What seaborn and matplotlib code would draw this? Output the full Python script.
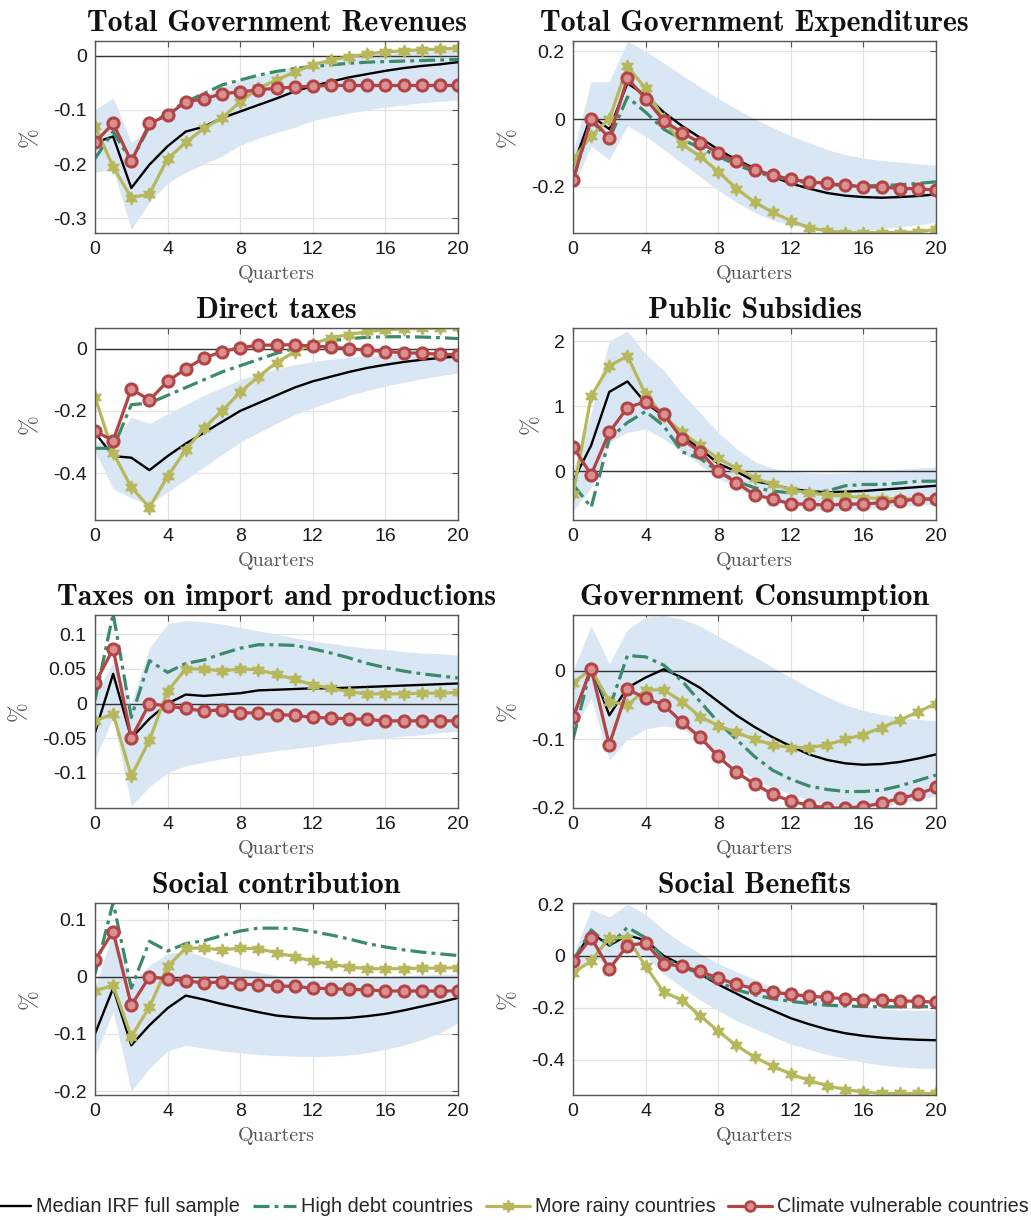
import numpy as np
import pandas as pd
import matplotlib
matplotlib.use("Agg")
import matplotlib.pyplot as plt
from matplotlib.lines import Line2D
from matplotlib.ticker import FuncFormatter, FixedLocator
import seaborn as sns

quarters = np.arange(21)

# ---- Total Government Revenues ----
rev_median = [-0.160, -0.149, -0.244, -0.201, -0.167, -0.140, -0.131, -0.115, -0.103, -0.091, -0.079,
              -0.066, -0.056, -0.048, -0.040, -0.034, -0.028, -0.023, -0.019, -0.016, -0.012]
rev_lo = [-0.215, -0.210, -0.320, -0.270, -0.235, -0.215, -0.200, -0.185, -0.165, -0.152, -0.142,
          -0.132, -0.120, -0.112, -0.106, -0.100, -0.095, -0.091, -0.087, -0.084, -0.082]
rev_hi = [-0.100, -0.078, -0.160, -0.135, -0.108, -0.088, -0.072, -0.058, -0.047, -0.037, -0.028,
          -0.020, -0.013, -0.007, -0.002, 0.002, 0.006, 0.009, 0.012, 0.014, 0.016]
rev_debt = [-0.190, -0.140, -0.195, -0.130, -0.105, -0.085, -0.070, -0.054, -0.045, -0.036, -0.029,
            -0.024, -0.020, -0.017, -0.014, -0.012, -0.011, -0.010, -0.009, -0.008, -0.007]
rev_rainy = [-0.130, -0.205, -0.262, -0.255, -0.190, -0.160, -0.134, -0.115, -0.085, -0.060, -0.045,
             -0.030, -0.017, -0.008, -0.002, 0.003, 0.007, 0.009, 0.011, 0.012, 0.014]
rev_climate = [-0.160, -0.125, -0.195, -0.125, -0.110, -0.085, -0.080, -0.070, -0.067, -0.063, -0.060,
               -0.058, -0.056, -0.055, -0.055, -0.055, -0.055, -0.055, -0.055, -0.055, -0.055]

# ---- Total Government Expenditures ----
exp_median = [-0.140, 0.010, -0.030, 0.105, 0.070, 0.020, -0.020, -0.055, -0.090, -0.120, -0.145,
              -0.170, -0.190, -0.205, -0.218, -0.226, -0.230, -0.232, -0.230, -0.227, -0.222]
exp_lo = [-0.200, -0.080, -0.120, -0.020, -0.050, -0.090, -0.130, -0.170, -0.210, -0.245, -0.275,
          -0.298, -0.313, -0.323, -0.328, -0.330, -0.328, -0.323, -0.318, -0.312, -0.305]
exp_hi = [-0.100, 0.110, 0.110, 0.230, 0.200, 0.165, 0.130, 0.095, 0.060, 0.030, 0.000,
          -0.025, -0.050, -0.070, -0.090, -0.105, -0.115, -0.122, -0.127, -0.132, -0.136]
exp_debt = [-0.180, -0.005, -0.060, 0.065, 0.020, -0.030, -0.060, -0.085, -0.110, -0.135, -0.155,
            -0.170, -0.180, -0.188, -0.193, -0.196, -0.197, -0.196, -0.194, -0.190, -0.185]
exp_rainy = [-0.120, -0.050, 0.000, 0.155, 0.090, 0.000, -0.075, -0.110, -0.155, -0.205, -0.245,
             -0.275, -0.300, -0.320, -0.330, -0.335, -0.335, -0.335, -0.335, -0.333, -0.325]
exp_climate = [-0.180, 0.000, -0.055, 0.120, 0.060, -0.005, -0.040, -0.070, -0.100, -0.125, -0.150,
               -0.165, -0.178, -0.185, -0.190, -0.195, -0.200, -0.200, -0.205, -0.205, -0.210]

# ---- Direct taxes ----
dir_median = [-0.270, -0.345, -0.350, -0.390, -0.345, -0.305, -0.270, -0.235, -0.200, -0.175, -0.150,
              -0.125, -0.105, -0.090, -0.075, -0.062, -0.052, -0.043, -0.036, -0.030, -0.025]
dir_lo = [-0.330, -0.450, -0.480, -0.500, -0.460, -0.420, -0.380, -0.340, -0.300, -0.270, -0.240,
          -0.212, -0.190, -0.170, -0.150, -0.135, -0.120, -0.108, -0.097, -0.087, -0.078]
dir_hi = [-0.300, -0.300, -0.220, -0.240, -0.210, -0.180, -0.150, -0.125, -0.100, -0.080, -0.065,
          -0.052, -0.042, -0.034, -0.028, -0.023, -0.020, -0.018, -0.016, -0.015, -0.014]
dir_debt = [-0.320, -0.320, -0.180, -0.175, -0.150, -0.125, -0.100, -0.075, -0.055, -0.035, -0.015,
            0.000, 0.015, 0.025, 0.032, 0.036, 0.038, 0.038, 0.037, 0.035, 0.032]
dir_rainy = [-0.155, -0.335, -0.445, -0.510, -0.410, -0.325, -0.255, -0.200, -0.140, -0.090, -0.045,
             -0.010, 0.015, 0.035, 0.045, 0.055, 0.060, 0.063, 0.065, 0.066, 0.068]
dir_climate = [-0.265, -0.295, -0.130, -0.165, -0.105, -0.065, -0.030, -0.010, 0.003, 0.010, 0.012,
               0.012, 0.008, 0.005, 0.000, -0.005, -0.010, -0.013, -0.015, -0.018, -0.020]

# ---- Public Subsidies ----
sub_median = [-0.150, 0.400, 1.220, 1.380, 1.050, 0.850, 0.550, 0.350, 0.120, 0.000, -0.150,
              -0.200, -0.270, -0.300, -0.320, -0.310, -0.300, -0.280, -0.260, -0.240, -0.220]
sub_lo = [-0.600, -0.250, 0.450, 0.600, 0.650, 0.500, 0.300, 0.100, -0.100, -0.250, -0.380,
          -0.450, -0.520, -0.570, -0.600, -0.600, -0.580, -0.550, -0.530, -0.520, -0.500]
sub_hi = [0.000, 0.900, 2.000, 2.150, 1.800, 1.550, 1.200, 0.900, 0.600, 0.350, 0.150,
          0.050, 0.000, -0.020, -0.030, -0.020, 0.000, 0.020, 0.030, 0.050, 0.070]
sub_debt = [-0.200, -0.550, 0.500, 0.750, 0.920, 0.700, 0.300, 0.200, 0.000, -0.150, -0.250,
            -0.300, -0.330, -0.320, -0.300, -0.220, -0.200, -0.200, -0.180, -0.150, -0.150]
sub_rainy = [-0.350, 1.150, 1.620, 1.770, 1.180, 0.850, 0.600, 0.400, 0.200, 0.050, -0.100,
             -0.200, -0.280, -0.330, -0.360, -0.380, -0.400, -0.420, -0.420, -0.420, -0.420]
sub_climate = [0.380, -0.050, 0.600, 0.980, 1.070, 0.880, 0.500, 0.300, 0.000, -0.170, -0.360,
               -0.420, -0.500, -0.500, -0.520, -0.500, -0.500, -0.480, -0.450, -0.430, -0.420]

# ---- Taxes on import and productions ----
imp_median = [-0.042, 0.043, -0.050, -0.022, 0.000, 0.013, 0.011, 0.013, 0.015, 0.019, 0.020,
              0.021, 0.022, 0.022, 0.023, 0.024, 0.025, 0.026, 0.027, 0.028, 0.029]
imp_lo = [-0.080, -0.020, -0.148, -0.120, -0.100, -0.090, -0.085, -0.080, -0.076, -0.072, -0.068,
          -0.065, -0.062, -0.058, -0.055, -0.052, -0.050, -0.047, -0.045, -0.042, -0.040]
imp_hi = [0.010, 0.060, 0.000, 0.080, 0.115, 0.120, 0.118, 0.115, 0.110, 0.105, 0.100,
          0.095, 0.090, 0.087, 0.083, 0.080, 0.078, 0.075, 0.073, 0.072, 0.070]
imp_debt = [0.005, 0.130, -0.020, 0.062, 0.045, 0.058, 0.063, 0.072, 0.080, 0.085, 0.085,
            0.084, 0.079, 0.073, 0.066, 0.058, 0.052, 0.047, 0.043, 0.040, 0.037]
imp_rainy = [-0.025, -0.015, -0.105, -0.053, 0.018, 0.050, 0.050, 0.047, 0.050, 0.049, 0.042,
             0.035, 0.027, 0.022, 0.017, 0.014, 0.014, 0.014, 0.015, 0.015, 0.016]
imp_climate = [0.029, 0.079, -0.050, 0.000, -0.004, -0.007, -0.011, -0.009, -0.013, -0.014, -0.016,
               -0.017, -0.020, -0.021, -0.022, -0.023, -0.025, -0.025, -0.025, -0.025, -0.025]

# ---- Government Consumption ----
con_median = [-0.070, 0.005, -0.065, -0.025, -0.010, 0.002, -0.010, -0.025, -0.045, -0.065, -0.082,
              -0.097, -0.110, -0.122, -0.130, -0.135, -0.137, -0.136, -0.133, -0.128, -0.122]
con_lo = [-0.090, -0.040, -0.130, -0.100, -0.085, -0.080, -0.085, -0.100, -0.120, -0.140, -0.158,
          -0.170, -0.180, -0.188, -0.194, -0.197, -0.198, -0.197, -0.193, -0.188, -0.182]
con_hi = [0.000, 0.065, 0.010, 0.060, 0.078, 0.080, 0.075, 0.065, 0.050, 0.035, 0.020,
          0.005, -0.010, -0.025, -0.038, -0.050, -0.058, -0.064, -0.068, -0.071, -0.073]
con_debt = [-0.100, 0.005, -0.055, 0.022, 0.020, 0.008, -0.015, -0.045, -0.075, -0.100, -0.125,
            -0.145, -0.158, -0.168, -0.173, -0.176, -0.176, -0.174, -0.168, -0.160, -0.152]
con_rainy = [-0.018, 0.002, -0.045, -0.050, -0.028, -0.028, -0.045, -0.067, -0.080, -0.090, -0.100,
             -0.108, -0.112, -0.112, -0.108, -0.100, -0.093, -0.083, -0.072, -0.060, -0.048]
con_climate = [-0.068, 0.003, -0.108, -0.027, -0.040, -0.050, -0.075, -0.097, -0.125, -0.148, -0.165,
               -0.180, -0.190, -0.196, -0.200, -0.200, -0.198, -0.193, -0.186, -0.180, -0.170]

# ---- Social contribution ----
soc_median = [-0.100, -0.020, -0.120, -0.085, -0.055, -0.033, -0.040, -0.048, -0.055, -0.062, -0.068,
              -0.071, -0.073, -0.073, -0.072, -0.069, -0.065, -0.059, -0.052, -0.045, -0.037]
soc_lo = [-0.140, -0.060, -0.200, -0.160, -0.130, -0.120, -0.125, -0.130, -0.133, -0.136, -0.138,
          -0.139, -0.140, -0.139, -0.137, -0.133, -0.127, -0.120, -0.110, -0.098, -0.081]
soc_hi = [-0.020, 0.080, -0.010, 0.020, 0.040, 0.045, 0.035, 0.025, 0.015, 0.008, 0.002,
          -0.002, -0.005, -0.005, -0.004, -0.002, 0.000, 0.002, 0.003, 0.004, 0.005]
soc_debt = [0.005, 0.130, -0.020, 0.062, 0.045, 0.058, 0.063, 0.072, 0.080, 0.085, 0.085,
            0.084, 0.079, 0.073, 0.066, 0.058, 0.052, 0.047, 0.043, 0.040, 0.037]
soc_rainy = [-0.025, -0.015, -0.105, -0.053, 0.018, 0.050, 0.050, 0.047, 0.050, 0.049, 0.042,
             0.035, 0.027, 0.022, 0.017, 0.014, 0.014, 0.014, 0.015, 0.015, 0.016]
soc_climate = [0.029, 0.079, -0.050, 0.000, -0.004, -0.007, -0.011, -0.009, -0.013, -0.014, -0.016,
               -0.017, -0.020, -0.021, -0.022, -0.023, -0.025, -0.025, -0.025, -0.025, -0.025]

# ---- Social Benefits ----
ben_median = [-0.020, 0.090, 0.040, 0.080, 0.060, 0.000, -0.035, -0.070, -0.110, -0.145, -0.180,
              -0.210, -0.240, -0.263, -0.283, -0.298, -0.308, -0.315, -0.320, -0.323, -0.325]
ben_lo = [-0.070, 0.000, -0.040, 0.030, 0.000, -0.070, -0.120, -0.170, -0.210, -0.250, -0.280,
          -0.310, -0.340, -0.360, -0.380, -0.395, -0.410, -0.420, -0.428, -0.432, -0.435]
ben_hi = [0.000, 0.180, 0.150, 0.200, 0.160, 0.100, 0.050, 0.010, -0.030, -0.060, -0.090,
          -0.120, -0.140, -0.160, -0.175, -0.190, -0.200, -0.205, -0.208, -0.209, -0.209]
ben_debt = [-0.020, 0.100, 0.040, 0.110, 0.070, -0.010, -0.040, -0.070, -0.100, -0.130, -0.150,
            -0.165, -0.175, -0.183, -0.190, -0.193, -0.195, -0.196, -0.196, -0.196, -0.195]
ben_rainy = [-0.065, -0.020, 0.070, 0.070, -0.040, -0.140, -0.170, -0.230, -0.290, -0.345, -0.390,
             -0.425, -0.455, -0.480, -0.500, -0.515, -0.525, -0.530, -0.530, -0.530, -0.530]
ben_climate = [-0.020, 0.070, -0.050, 0.040, 0.050, -0.030, -0.040, -0.060, -0.085, -0.110, -0.125,
               -0.140, -0.148, -0.155, -0.160, -0.165, -0.170, -0.170, -0.173, -0.175, -0.178]

titles = ["Total Government Revenues", "Total Government Expenditures",
          "Direct taxes", "Public Subsidies",
          "Taxes on import and productions", "Government Consumption",
          "Social contribution", "Social Benefits"]
series_names = ["Median IRF full sample", "High debt countries",
                "More rainy countries", "Climate vulnerable countries"]
yticks = [[-0.3, -0.2, -0.1, 0], [-0.2, 0, 0.2],
          [-0.4, -0.2, 0], [0, 1, 2],
          [-0.1, -0.05, 0, 0.05, 0.1], [-0.2, -0.1, 0],
          [-0.2, -0.1, 0, 0.1], [-0.4, -0.2, 0, 0.2]]
ylims = [(-0.327, 0.027), (-0.336, 0.230),
         (-0.550, 0.066), (-0.745, 2.200),
         (-0.151, 0.128), (-0.200, 0.081),
         (-0.207, 0.129), (-0.536, 0.204)]

panels = [
    (rev_median, rev_lo, rev_hi, rev_debt, rev_rainy, rev_climate),
    (exp_median, exp_lo, exp_hi, exp_debt, exp_rainy, exp_climate),
    (dir_median, dir_lo, dir_hi, dir_debt, dir_rainy, dir_climate),
    (sub_median, sub_lo, sub_hi, sub_debt, sub_rainy, sub_climate),
    (imp_median, imp_lo, imp_hi, imp_debt, imp_rainy, imp_climate),
    (con_median, con_lo, con_hi, con_debt, con_rainy, con_climate),
    (soc_median, soc_lo, soc_hi, soc_debt, soc_rainy, soc_climate),
    (ben_median, ben_lo, ben_hi, ben_debt, ben_rainy, ben_climate),
]

sns.set_theme(style="white")
plt.rcParams["font.family"] = ["Liberation Sans", "DejaVu Sans"]
plt.rcParams["axes.unicode_minus"] = False

BAND = "#d9e6f4"
GREEN = "#3b8a6c"
YELLOW = "#b7b75c"
RED = "#b24446"
RED_FACE = "#d99090"
STAR = (6, 1, 0)
DASHDOT = (0, (5.0, 1.6, 1.2, 1.6))

W, H = 1031, 1220
fig = plt.figure(figsize=(W / 100, H / 100), dpi=100)

cols = [(95, 458), (573, 936)]
rows = [(41, 233), (328, 520), (615, 808), (903, 1095)]

fmt = FuncFormatter(lambda v, _: f"{v:g}")

for i, (title, data) in enumerate(zip(titles, panels)):
    r, c = divmod(i, 2)
    x0, x1 = cols[c]
    y0, y1 = rows[r]
    ax = fig.add_axes([x0 / W, 1 - y1 / H, (x1 - x0) / W, (y1 - y0) / H])
    med, lo, hi, debt, rainy, clim = data

    ax.fill_between(quarters, lo, hi, color=BAND, lw=0, zorder=1)
    ax.axhline(0, color="#333333", lw=1.0, zorder=2)

    df = pd.DataFrame({"q": quarters, "median": med, "debt": debt,
                       "rainy": rainy, "climate": clim})
    sns.lineplot(data=df, x="q", y="median", ax=ax, color="black", lw=1.7,
                 zorder=3, label=series_names[0], legend=False)
    sns.lineplot(data=df, x="q", y="debt", ax=ax, color=GREEN, lw=2.3,
                 linestyle=DASHDOT, zorder=4, label=series_names[1], legend=False)
    sns.lineplot(data=df, x="q", y="rainy", ax=ax, color=YELLOW, lw=2.3,
                 marker=STAR, markersize=9.5, markeredgecolor=YELLOW,
                 markerfacecolor=YELLOW, markeredgewidth=1.0, zorder=5,
                 label=series_names[2], legend=False)
    sns.lineplot(data=df, x="q", y="climate", ax=ax, color=RED, lw=2.3,
                 marker="o", markersize=8, markeredgecolor=RED,
                 markerfacecolor=RED_FACE, markeredgewidth=2.2, zorder=6,
                 label=series_names[3], legend=False)

    ax.set_xlim(0, 20)
    ax.set_ylim(*ylims[i])
    ax.xaxis.set_major_locator(FixedLocator([0, 4, 8, 12, 16, 20]))
    ax.yaxis.set_major_locator(FixedLocator(yticks[i]))
    ax.yaxis.set_major_formatter(fmt)
    ax.grid(True, color="#e2e2e2", lw=0.9, zorder=0)
    ax.set_axisbelow(True)
    ax.tick_params(direction="in", length=4, width=0.8, top=True, right=True,
                   labelsize=14, colors="#555555", labelcolor="#1a1a1a", pad=6)
    for sp in ax.spines.values():
        sp.set_color("#555555")
        sp.set_linewidth(1.0)
        sp.set_zorder(7)

    ax.set_title(title, family=["cmb10", "DejaVu Serif"], fontsize=21.5, pad=7,
                 color="#111111")
    ax.set_xlabel("Quarters", family=["cmr10", "DejaVu Serif"], fontsize=14.5,
                  color="#555555", labelpad=5)
    ax.set_ylabel("%", family=["cmr10", "DejaVu Serif"], fontsize=17,
                  color="#555555", labelpad=9)

handles = [
    Line2D([], [], color="black", lw=1.7),
    Line2D([], [], color=GREEN, lw=2.3, linestyle=DASHDOT),
    Line2D([], [], color=YELLOW, lw=2.3, marker=STAR, markersize=9,
           markerfacecolor=YELLOW, markeredgecolor=YELLOW),
    Line2D([], [], color=RED, lw=2.3, marker="o", markersize=7,
           markerfacecolor=RED_FACE, markeredgecolor=RED, markeredgewidth=2.0),
]
fig.legend(handles, series_names, loc="center", ncol=4,
           bbox_to_anchor=(508 / W, 1 - 1207 / H), frameon=False,
           prop={"family": ["Liberation Sans", "DejaVu Sans"], "size": 14.3},
           handlelength=2.2, handletextpad=0.25, columnspacing=0.65,
           borderpad=0.2)

fig.savefig("out.png", dpi=100, facecolor="white")
